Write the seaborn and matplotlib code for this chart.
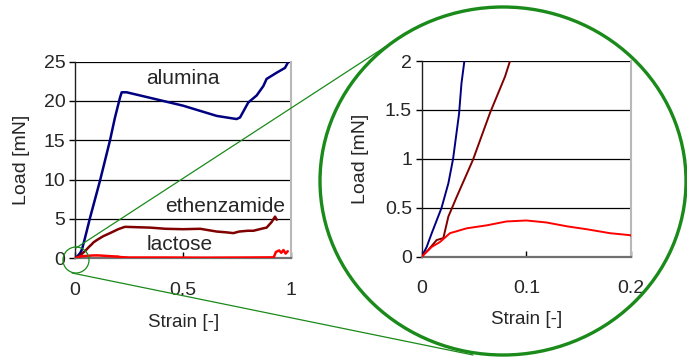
import matplotlib
matplotlib.use("Agg")
import matplotlib.pyplot as plt
import seaborn as sns
import pandas as pd
from matplotlib.patches import Ellipse, Circle

# strain / load readings for the three powders
alumina_strain = [0, 0.0048, 0.0096, 0.019, 0.0255, 0.030, 0.0357, 0.038, 0.0408, 0.07, 0.116,
                  0.162, 0.185, 0.208, 0.216, 0.239, 0.347, 0.5, 0.656, 0.748, 0.764, 0.802,
                  0.841, 0.872, 0.887, 0.934, 0.972, 0.988]
alumina_load = [0, 0.1, 0.24, 0.5, 0.75, 1.0, 1.46, 1.77, 2.0, 5.2, 9.9,
                15.0, 17.9, 20.4, 21.1, 21.1, 20.4, 19.4, 18.1, 17.7, 17.9, 19.8,
                20.7, 21.9, 22.8, 23.6, 24.2, 25.0]

ethenz_strain = [0, 0.0064, 0.0143, 0.0207, 0.0255, 0.0334, 0.049, 0.0653, 0.0796, 0.0844, 0.1,
                 0.13, 0.162, 0.2, 0.231, 0.347, 0.42, 0.5, 0.58, 0.656, 0.7, 0.733, 0.76,
                 0.8, 0.826, 0.87, 0.887, 0.91, 0.926, 0.934]
ethenz_load = [0, 0.07, 0.17, 0.19, 0.41, 0.61, 0.99, 1.47, 1.84, 2.0, 2.3,
               2.8, 3.2, 3.7, 4.0, 3.9, 3.75, 3.7, 3.75, 3.4, 3.3, 3.2, 3.4,
               3.5, 3.5, 3.8, 3.9, 4.6, 5.3, 4.9]

lactose_strain = [0, 0.0096, 0.0175, 0.027, 0.043, 0.062, 0.081, 0.1, 0.119, 0.139, 0.158,
                  0.18, 0.199, 0.21, 0.25, 0.4, 0.6, 0.8, 0.92, 0.93, 0.945, 0.955, 0.965,
                  0.975, 0.985]
lactose_load = [0, 0.1, 0.15, 0.24, 0.29, 0.32, 0.36, 0.37, 0.35, 0.31, 0.28,
                0.24, 0.22, 0.15, 0.1, 0.1, 0.08, 0.1, 0.12, 0.8, 1.0, 0.7, 1.05,
                0.6, 0.9]

series = [("alumina", alumina_strain, alumina_load, "#000080"),
          ("ethenzamide", ethenz_strain, ethenz_load, "#800000"),
          ("lactose", lactose_strain, lactose_load, "#ff0000")]

sns.set_theme(style="white")
plt.rcParams['font.family'] = ['Liberation Sans', 'DejaVu Sans']

fig = plt.figure(figsize=(6.87, 3.58), dpi=100)
ax1 = fig.add_axes([0.1092, 0.2785, 0.3144, 0.5494])
ax2 = fig.add_axes([0.6138, 0.2830, 0.3047, 0.5466])


def style_axes(ax, xlim, ylim, xticks, yticks, xlabels, ylabels):
    ax.set_xlim(*xlim)
    ax.set_ylim(*ylim)
    ax.set_xticks(xticks)
    ax.set_xticklabels(xlabels)
    ax.set_yticks(yticks)
    ax.set_yticklabels(ylabels)
    for y in yticks[1:]:
        ax.axhline(y, color="black", lw=0.9, zorder=1)
    ax.spines['top'].set_visible(False)
    ax.spines['left'].set_color("#202020")
    ax.spines['left'].set_linewidth(1.0)
    ax.spines['right'].set_color("#b8b8b8")
    ax.spines['right'].set_linewidth(1.5)
    ax.spines['bottom'].set_color("#707070")
    ax.spines['bottom'].set_linewidth(1.6)
    ax.tick_params(axis='x', direction='in', length=4, width=1, color="black",
                   pad=17, labelsize=14, bottom=True)
    ax.tick_params(axis='y', direction='out', length=4, width=1, color="black",
                   pad=3, labelsize=14, left=True)
    ax.set_xlabel("Strain [-]", fontsize=13.5)
    ax.set_ylabel("Load [mN]", fontsize=14)


for name, xs, ys, col in series:
    df = pd.DataFrame({"strain": xs, "load": ys})
    sns.lineplot(data=df, x="strain", y="load", sort=False, estimator=None,
                 color=col, lw=1.8, ax=ax1, zorder=3)
    sns.lineplot(data=df, x="strain", y="load", sort=False, estimator=None,
                 color=col, lw=1.4, ax=ax2, zorder=3)

style_axes(ax1, (0, 1), (0, 25), [0, 0.5, 1], [0, 5, 10, 15, 20, 25],
           ["0", "0.5", "1"], ["0", "5", "10", "15", "20", "25"])
style_axes(ax2, (0, 0.2), (0, 2), [0, 0.1, 0.2], [0, 0.5, 1, 1.5, 2],
           ["0", "0.1", "0.2"], ["0", "0.5", "1", "1.5", "2"])

ax1.xaxis.set_label_coords(0.505, -0.285)
ax1.yaxis.set_label_coords(-0.21, 0.5)
ax2.xaxis.set_label_coords(0.503, -0.28)
ax2.yaxis.set_label_coords(-0.25, 0.5)

ax1.text(0.5, 22.8, "alumina", ha="center", va="center", fontsize=15)
ax1.text(0.695, 6.6, "ethenzamide", ha="center", va="center", fontsize=15)
ax1.text(0.484, 1.7, "lactose", ha="center", va="center", fontsize=15)

# zoom marker overlay in pixel coordinates
ov = fig.add_axes([0, 0, 1, 1], facecolor="none")
ov.set_xlim(0, 687)
ov.set_ylim(358, 0)
ov.axis("off")
green = "#1a8a1a"
ov.add_patch(Ellipse((503, 181), 366, 348, fill=False, ec=green, lw=2.4))
ov.add_patch(Circle((76, 260), 13, fill=False, ec=green, lw=0.9))
ov.plot([76, 385], [248, 47], color=green, lw=0.9)
ov.plot([72, 473], [273, 355], color=green, lw=0.9)

fig.savefig("out.png", dpi=100, facecolor="white")
